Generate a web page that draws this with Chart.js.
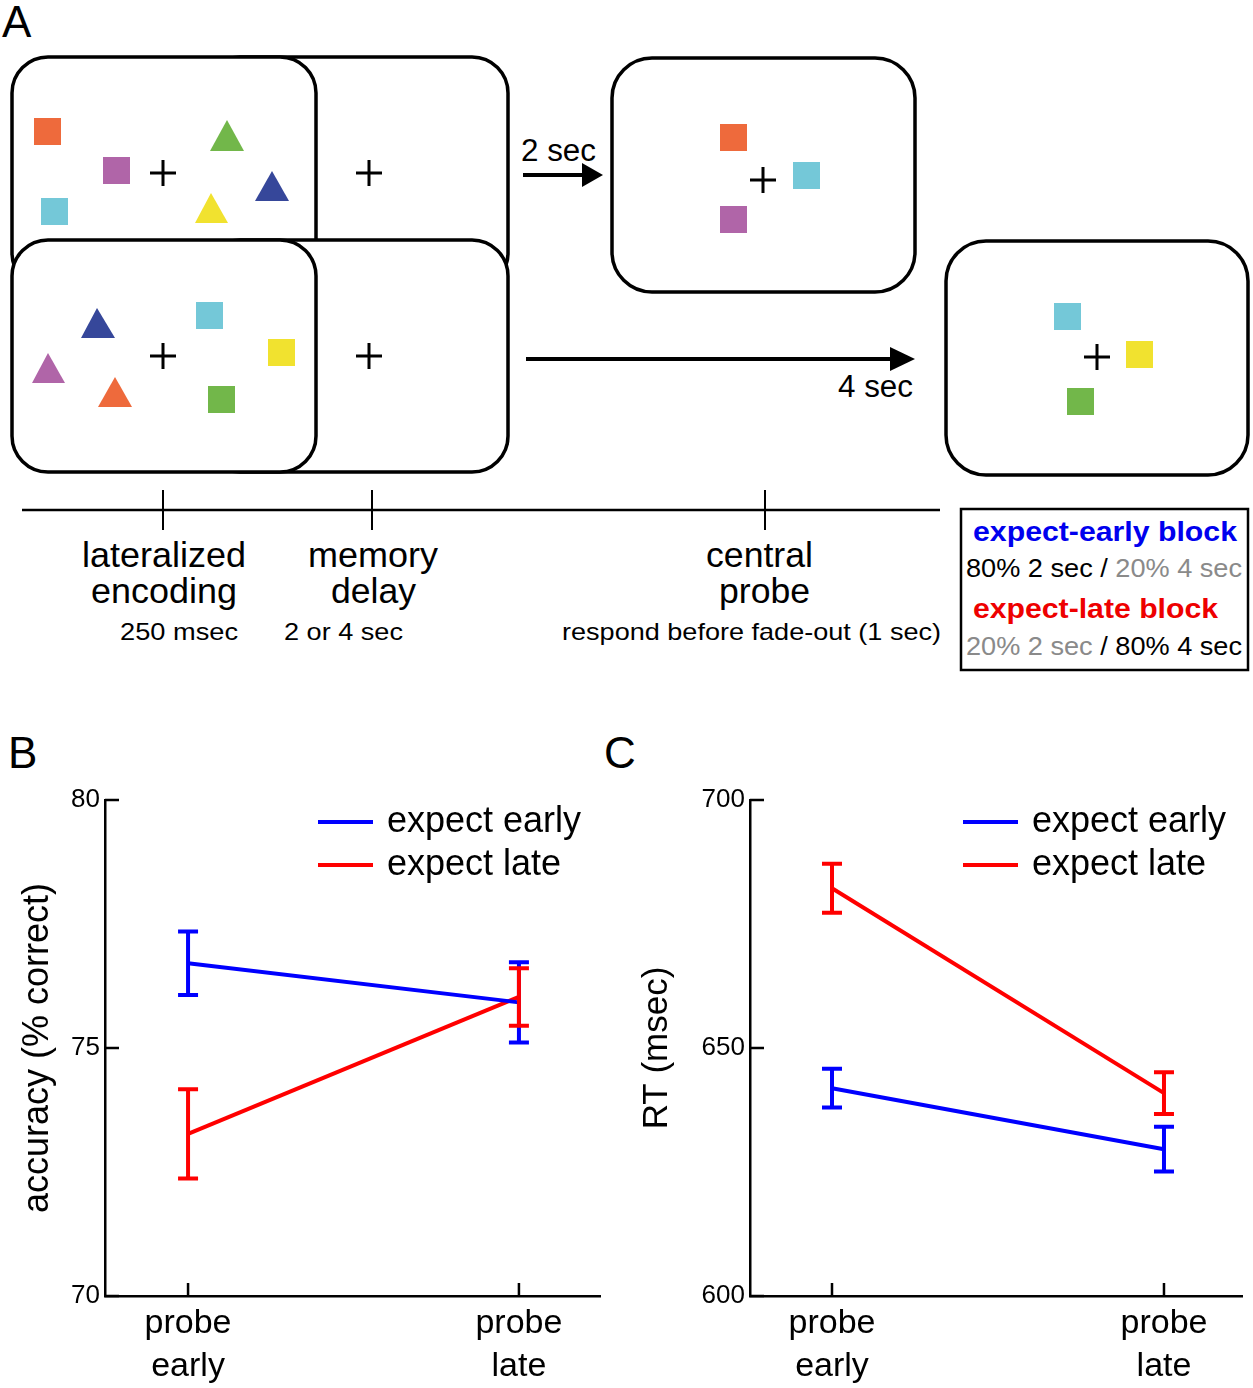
<!DOCTYPE html>
<html>
<head>
<meta charset="utf-8">
<script src="https://cdn.jsdelivr.net/npm/chart.js@4.4.1/dist/chart.umd.min.js"></script>
<style>
  html, body { margin: 0; padding: 0; background: #fff; }
  body { width: 1253px; height: 1388px; position: relative; overflow: hidden; font-family: 'Liberation Sans', Arial, sans-serif; }
  .plab { position: absolute; font-size: 44px; line-height: 44px; color: #000; }
  canvas { position: absolute; }
  svg { position: absolute; left: 0; top: 0; }
</style>
</head>
<body>
<svg width="1253" height="700" viewBox="0 0 1253 700" font-family="'Liberation Sans', Arial, sans-serif">
  <!-- top trial -->
  <rect x="204" y="57" width="304" height="232" rx="36" fill="#fff" stroke="#000" stroke-width="3.5"/>
  <rect x="12" y="57" width="304" height="232" rx="36" fill="#fff" stroke="#000" stroke-width="3.5"/>
  <rect x="34" y="118" width="27" height="27" fill="#ee6a3c"/>
  <rect x="103" y="157" width="27" height="27" fill="#b065a8"/>
  <rect x="41" y="198" width="27" height="27" fill="#74c8d8"/>
  <polygon points="227,120 210,151 244,151" fill="#72b74a"/>
  <polygon points="272,171 255,201 289,201" fill="#36479a"/>
  <polygon points="211,193 195,223 228,223" fill="#f1e22f"/>
  <path d="M150,173 H176 M163,160 V186" stroke="#000" stroke-width="3"/>
  <path d="M356,173 H382 M369,160 V186" stroke="#000" stroke-width="3"/>
  <!-- bottom trial -->
  <rect x="204" y="240" width="304" height="232" rx="36" fill="#fff" stroke="#000" stroke-width="3.5"/>
  <rect x="12" y="240" width="304" height="232" rx="36" fill="#fff" stroke="#000" stroke-width="3.5"/>
  <polygon points="97,308 81,338 115,338" fill="#36479a"/>
  <rect x="196" y="302" width="27" height="27" fill="#74c8d8"/>
  <polygon points="48,353 32,383 65,383" fill="#b065a8"/>
  <rect x="268" y="339" width="27" height="27" fill="#f1e22f"/>
  <polygon points="115,377 98,407 132,407" fill="#ee6a3c"/>
  <rect x="208" y="386" width="27" height="27" fill="#72b74a"/>
  <path d="M150,356 H176 M163,343 V369" stroke="#000" stroke-width="3"/>
  <path d="M356,356 H382 M369,343 V369" stroke="#000" stroke-width="3"/>
  <!-- arrows -->
  <text x="521" y="161" font-size="31" textLength="75" lengthAdjust="spacingAndGlyphs">2 sec</text>
  <path d="M523,175 H586" stroke="#000" stroke-width="4"/>
  <polygon points="582,163 603,175 582,187" fill="#000"/>
  <path d="M526,359 H893" stroke="#000" stroke-width="4"/>
  <polygon points="890,347 915,359 890,371" fill="#000"/>
  <text x="913" y="397" font-size="31" text-anchor="end" textLength="75" lengthAdjust="spacingAndGlyphs">4 sec</text>
  <!-- probe screens -->
  <rect x="612" y="58" width="303" height="234" rx="40" fill="#fff" stroke="#000" stroke-width="3.5"/>
  <rect x="720" y="124" width="27" height="27" fill="#ee6a3c"/>
  <rect x="793" y="162" width="27" height="27" fill="#74c8d8"/>
  <rect x="720" y="206" width="27" height="27" fill="#b065a8"/>
  <path d="M750,180 H776 M763,167 V193" stroke="#000" stroke-width="3"/>
  <rect x="946" y="241" width="302" height="234" rx="40" fill="#fff" stroke="#000" stroke-width="3.5"/>
  <rect x="1054" y="303" width="27" height="27" fill="#74c8d8"/>
  <rect x="1126" y="341" width="27" height="27" fill="#f1e22f"/>
  <rect x="1067" y="388" width="27" height="27" fill="#72b74a"/>
  <path d="M1084,357 H1110 M1097,344 V370" stroke="#000" stroke-width="3"/>
  <!-- timeline -->
  <path d="M22,510 H940" stroke="#000" stroke-width="2.5"/>
  <path d="M163,490 V530 M372,490 V530 M765,490 V530" stroke="#000" stroke-width="2"/>
  <text x="82" y="567" font-size="35" textLength="164" lengthAdjust="spacingAndGlyphs">lateralized</text>
  <text x="91" y="603" font-size="35" textLength="146" lengthAdjust="spacingAndGlyphs">encoding</text>
  <text x="120" y="640" font-size="24" textLength="118" lengthAdjust="spacingAndGlyphs">250 msec</text>
  <text x="308" y="567" font-size="35" textLength="130" lengthAdjust="spacingAndGlyphs">memory</text>
  <text x="331" y="603" font-size="35" textLength="85" lengthAdjust="spacingAndGlyphs">delay</text>
  <text x="284" y="640" font-size="24" textLength="119" lengthAdjust="spacingAndGlyphs">2 or 4 sec</text>
  <text x="706" y="567" font-size="35" textLength="107" lengthAdjust="spacingAndGlyphs">central</text>
  <text x="719" y="603" font-size="35" textLength="91" lengthAdjust="spacingAndGlyphs">probe</text>
  <text x="562" y="640" font-size="24" textLength="379" lengthAdjust="spacingAndGlyphs">respond before fade-out (1 sec)</text>
  <!-- block legend -->
  <rect x="961" y="509" width="287" height="161" fill="#fff" stroke="#000" stroke-width="2.5"/>
  <text x="973" y="541" font-size="27" font-weight="bold" fill="#0000ee" textLength="264" lengthAdjust="spacingAndGlyphs">expect-early block</text>
  <text x="966" y="577" font-size="26" textLength="276" lengthAdjust="spacingAndGlyphs"><tspan fill="#000">80% 2 sec / </tspan><tspan fill="#8a8a8a">20% 4 sec</tspan></text>
  <text x="973" y="618" font-size="27" font-weight="bold" fill="#ee0000" textLength="245" lengthAdjust="spacingAndGlyphs">expect-late block</text>
  <text x="966" y="655" font-size="26" textLength="276" lengthAdjust="spacingAndGlyphs"><tspan fill="#8a8a8a">20% 2 sec </tspan><tspan fill="#000">/ 80% 4 sec</tspan></text>
</svg>
<div class="plab" style="left:2px;top:0px;">A</div>
<div class="plab" style="left:8px;top:731px;">B</div>
<div class="plab" style="left:604px;top:731px;">C</div>
<canvas id="chartB" width="625" height="668" style="left:0px;top:720px;"></canvas>
<canvas id="chartC" width="633" height="668" style="left:620px;top:720px;"></canvas>
<script>
// ---------- data ----------
const categories = [["probe", "early"], ["probe", "late"]];
const seriesNames = ["expect early", "expect late"];
const seriesColors = ["#0000ff", "#ff0000"];

const accExpectEarly = [76.71, 75.92];
const accExpectEarlyErr = [0.64, 0.81];
const accExpectLate = [73.27, 76.03];
const accExpectLateErr = [0.90, 0.58];
const accTicks = [70, 75, 80];
const accTitle = "accuracy (% correct)";

const rtExpectEarly = [641.9, 629.6];
const rtExpectEarlyErr = [3.9, 4.5];
const rtExpectLate = [682.2, 640.9];
const rtExpectLateErr = [4.95, 4.2];
const rtTicks = [600, 650, 700];
const rtTitle = "RT (msec)";

const FONT = "'Liberation Sans', Arial, sans-serif";

// ---------- plugins ----------
const errorBars = {
  id: 'errorBars',
  afterDatasetsDraw(chart) {
    const { ctx, scales: { x, y } } = chart;
    chart.data.datasets.forEach(ds => {
      ctx.save();
      ctx.strokeStyle = ds.borderColor;
      ctx.lineWidth = 4;
      ds.data.forEach((p, i) => {
        const px = x.getPixelForValue(p.x);
        const t = y.getPixelForValue(p.y + ds.err[i]);
        const b = y.getPixelForValue(p.y - ds.err[i]);
        ctx.beginPath();
        ctx.moveTo(px, t); ctx.lineTo(px, b);
        ctx.moveTo(px - 10, t); ctx.lineTo(px + 10, t);
        ctx.moveTo(px - 10, b); ctx.lineTo(px + 10, b);
        ctx.stroke();
      });
      ctx.restore();
    });
  }
};

const inwardTicks = {
  id: 'inwardTicks',
  afterDraw(chart) {
    const { ctx, chartArea, scales: { x, y } } = chart;
    ctx.save();
    ctx.strokeStyle = '#000';
    ctx.lineWidth = 2.5;
    ctx.beginPath();
    y.ticks.forEach(t => {
      const py = y.getPixelForValue(t.value);
      ctx.moveTo(chartArea.left, py); ctx.lineTo(chartArea.left + 14, py);
    });
    x.ticks.forEach(t => {
      const px = x.getPixelForValue(t.value);
      ctx.moveTo(px, chartArea.bottom); ctx.lineTo(px, chartArea.bottom - 13);
    });
    ctx.stroke();
    ctx.restore();
  }
};

const lineLegend = {
  id: 'lineLegend',
  afterDraw(chart) {
    const { ctx, chartArea } = chart;
    ctx.save();
    ctx.font = '36px ' + FONT;
    ctx.textBaseline = 'middle';
    ctx.fillStyle = '#000';
    chart.data.datasets.forEach((ds, i) => {
      const yy = chartArea.top + 22 + i * 43;
      const x0 = chartArea.left + 213;
      ctx.strokeStyle = ds.borderColor;
      ctx.lineWidth = 4;
      ctx.beginPath();
      ctx.moveTo(x0, yy); ctx.lineTo(x0 + 55, yy);
      ctx.stroke();
      ctx.fillText(ds.label, x0 + 69, yy);
    });
    ctx.restore();
  }
};

function makeChart(id, early, earlyErr, late, lateErr, yTicks, yTitle, xMin, xMax, yAxisWidth, padRight, titleSize) {
  const canvas = document.getElementById(id);
  const H = canvas.height;
  const series = [[early, earlyErr], [late, lateErr]];
  return new Chart(canvas, {
    type: 'line',
    data: {
      datasets: series.map((s, k) => ({
        label: seriesNames[k],
        data: s[0].map((v, i) => ({ x: i, y: v })),
        err: s[1],
        borderColor: seriesColors[k],
        backgroundColor: seriesColors[k],
        borderWidth: 4,
        pointRadius: 0,
        tension: 0,
        fill: false
      }))
    },
    options: {
      responsive: false,
      animation: false,
      devicePixelRatio: 1,
      layout: { padding: { top: 80, right: padRight, left: 0, bottom: 0 } },
      plugins: { legend: { display: false }, tooltip: { enabled: false } },
      scales: {
        x: {
          type: 'linear',
          min: xMin, max: xMax,
          afterBuildTicks(s) { s.ticks = categories.map((c, i) => ({ value: i })); },
          afterFit(s) { s.height = H - 576; },
          grid: { display: true, drawOnChartArea: false, drawTicks: false },
          border: { display: true, color: '#000', width: 2.5 },
          ticks: {
            callback: (v, i) => categories[i],
            color: '#000',
            font: { family: FONT, size: 34, lineHeight: 1.26 },
            padding: 6,
            maxRotation: 0,
            autoSkip: false
          }
        },
        y: {
          type: 'linear',
          min: yTicks[0], max: yTicks[yTicks.length - 1],
          afterBuildTicks(s) { s.ticks = yTicks.map(v => ({ value: v })); },
          afterFit(s) { s.width = yAxisWidth; },
          grid: { display: true, drawOnChartArea: false, drawTicks: false },
          border: { display: true, color: '#000', width: 2.5 },
          ticks: {
            color: '#000',
            font: { family: FONT, size: 26 },
            padding: 5
          },
          title: {
            display: true,
            text: yTitle,
            color: '#000',
            font: { family: FONT, size: titleSize, lineHeight: 1.2 },
            padding: { top: 16, bottom: 0 }
          }
        }
      }
    },
    plugins: [errorBars, inwardTicks, lineLegend]
  });
}

makeChart('chartB', accExpectEarly, accExpectEarlyErr, accExpectLate, accExpectLateErr, accTicks, accTitle, -0.251, 1.245, 105, 25, 36);
makeChart('chartC', rtExpectEarly, rtExpectEarlyErr, rtExpectLate, rtExpectLateErr, rtTicks, rtTitle, -0.247, 1.235, 130, 11, 35);
</script>
</body>
</html>
